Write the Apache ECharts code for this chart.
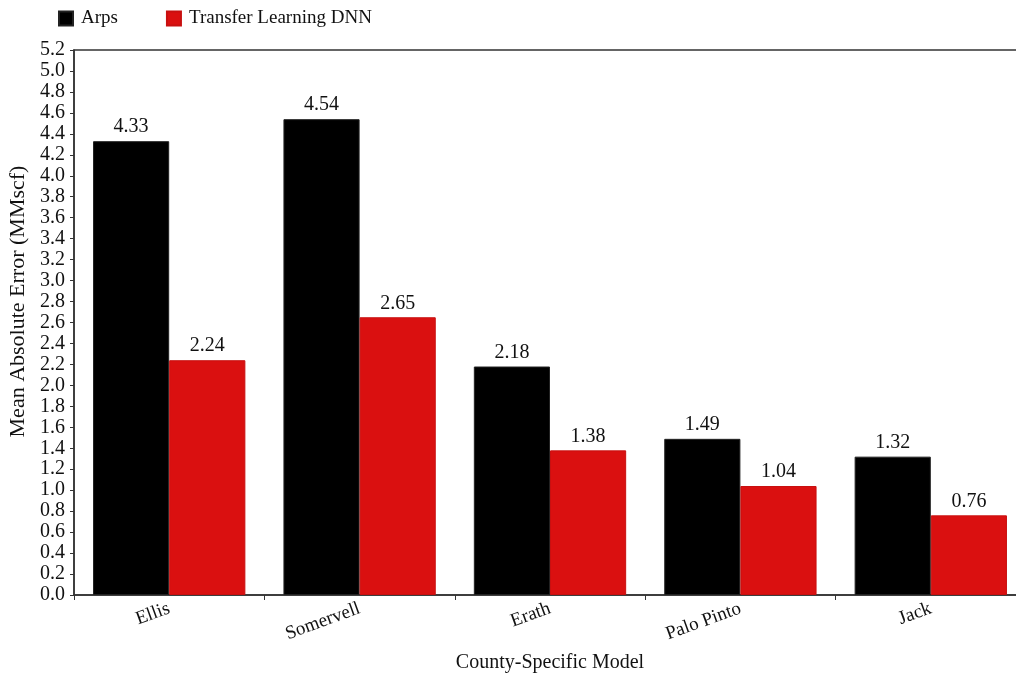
<!DOCTYPE html>
<html><head><meta charset="utf-8">
<script src="https://cdn.jsdelivr.net/npm/echarts@6/dist/echarts.min.js"></script>
<style>html,body{margin:0;padding:0;background:#fff;overflow:hidden}#c{width:1030px;height:675px}</style>
</head><body><div id="c"></div>
<script>
const categories = ['Ellis', 'Somervell', 'Erath', 'Palo Pinto', 'Jack'];
const arps = [4.33, 4.54, 2.18, 1.49, 1.32];
const dnn = [2.24, 2.65, 1.38, 1.04, 0.76];
const seriesNames = ['Arps', 'Transfer Learning DNN'];
const yTitle = 'Mean Absolute Error (MMscf)';
const xTitle = 'County-Specific Model';

const font = 'Liberation Serif';
const chart = echarts.init(document.getElementById('c'));
const label = {show: true, position: 'top', fontFamily: font, fontSize: 20, color: '#111', distance: 4,
  formatter: p => p.value.toFixed(2)};
chart.setOption({
  animation: false,
  textStyle: {fontFamily: font},
  legend: {left: 53, top: 4, itemWidth: 14, itemHeight: 14, itemGap: 48,
    textStyle: {fontFamily: font, fontSize: 19, color: '#111', padding: [0, 0, 0, 3]}, icon: 'rect'},
  grid: {left: 74, top: 50, right: 4, bottom: 80, show: true, borderColor: '#333', borderWidth: 1.5,
    containLabel: false, outerBoundsMode: 'none'},
  xAxis: {type: 'category', data: categories,
    axisLine: {lineStyle: {color: '#333', width: 1.5}},
    axisTick: {show: true, length: 5, lineStyle: {color: '#333'}},
    axisLabel: {rotate: 20, fontFamily: font, fontSize: 19, color: '#111', margin: 13},
    name: xTitle, nameLocation: 'middle', nameGap: 58,
    nameTextStyle: {fontFamily: font, fontSize: 20, color: '#111'}},
  yAxis: {type: 'value', min: 0, max: 5.2, interval: 0.2,
    axisLine: {show: true, lineStyle: {color: '#333', width: 1.5}},
    axisTick: {show: true, length: 4, lineStyle: {color: '#333'}},
    splitLine: {show: false},
    axisLabel: {fontFamily: font, fontSize: 20, color: '#111', margin: 9, formatter: v => v.toFixed(1)},
    name: yTitle, nameLocation: 'middle', nameGap: 42,
    nameTextStyle: {fontFamily: font, fontSize: 22, color: '#111', padding: [0, 0, 0, 42]}},
  series: [
    {name: seriesNames[0], type: 'bar', data: arps, barGap: '0%', barCategoryGap: '20%',
      itemStyle: {color: '#000', borderColor: '#222', borderWidth: 1}, label},
    {name: seriesNames[1], type: 'bar', data: dnn,
      itemStyle: {color: '#da1010', borderColor: '#c81010', borderWidth: 1}, label}
  ]
});
</script></body></html>
